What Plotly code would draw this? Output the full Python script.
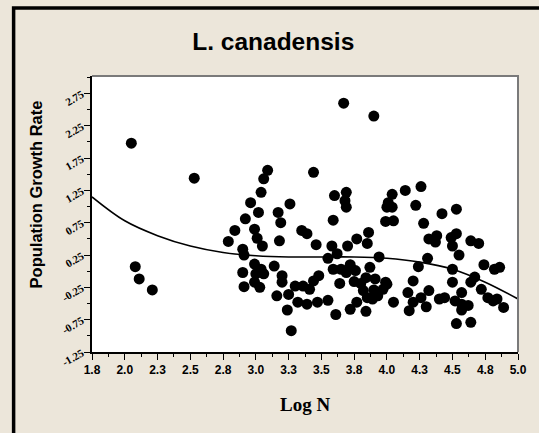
import plotly.graph_objects as go

# Scatter data (Log N, population growth rate)
log_n = [
    2.05, 2.53, 2.08, 2.11, 2.21, 3.67, 3.90, 3.44,
    3.09, 3.06, 3.04, 2.96, 3.26, 3.02, 2.92, 3.17, 3.19, 2.84, 2.99, 3.35,
    3.39, 2.79, 3.01, 3.05, 3.18, 3.46, 2.90, 2.91, 2.99, 3.04, 3.14, 2.90,
    3.00, 3.06, 3.20, 3.20, 2.91, 2.99, 3.03, 3.48, 3.44, 3.30, 3.36, 3.41,
    3.16, 3.25, 3.32, 3.39, 3.47, 3.24, 3.27,
    3.60, 3.69, 3.68, 3.69, 3.59, 4.04, 4.01, 4.00, 4.04, 4.14, 4.26, 4.22,
    3.99, 4.05, 4.28, 3.86, 3.77, 3.85, 3.70, 3.58, 3.62, 3.55, 3.94, 3.59,
    3.65, 3.72, 3.76, 3.69, 3.87, 3.64, 3.75, 3.80, 3.84, 3.91, 3.99, 3.82,
    3.90, 3.97, 4.00, 3.85, 3.93, 3.89, 3.55, 3.77, 3.72, 3.84, 4.05, 3.61,
    4.24, 4.20, 4.16, 4.20, 4.17, 4.26,
    4.53, 4.42, 4.32, 4.38, 4.37, 4.49, 4.53, 4.50, 4.64, 4.70, 4.55, 4.31,
    4.50, 4.74, 4.82, 4.86, 4.67, 4.64, 4.50, 4.32, 4.30, 4.40, 4.44, 4.57,
    4.52, 4.57, 4.62, 4.57, 4.72, 4.77, 4.81, 4.84, 4.89, 4.53, 4.64,
]
growth = [
    1.98, 1.44, 0.07, -0.12, -0.29, 2.60, 2.40, 1.53,
    1.56, 1.43, 1.22, 1.06, 1.04, 0.91, 0.81, 0.91, 0.75, 0.63, 0.65, 0.63,
    0.58, 0.46, 0.51, 0.39, 0.47, 0.41, 0.34, 0.25, 0.11, 0.03, 0.08, -0.02,
    -0.04, -0.04, -0.07, -0.17, -0.24, -0.17, -0.25, -0.07, -0.15, -0.23, -0.23, -0.28,
    -0.38, -0.36, -0.48, -0.51, -0.48, -0.60, -0.92,
    1.17, 1.22, 1.09, 0.99, 0.79, 1.19, 1.06, 0.99, 0.99, 1.25, 1.31, 1.02,
    0.77, 0.78, 0.74, 0.60, 0.50, 0.43, 0.39, 0.39, 0.27, 0.20, 0.22, 0.03,
    0.03, 0.10, 0.01, -0.02, 0.06, -0.19, -0.16, -0.19, -0.10, -0.12, -0.17, -0.30,
    -0.29, -0.28, -0.20, -0.41, -0.38, -0.43, -0.45, -0.48, -0.59, -0.62, -0.48, -0.67,
    0.07, -0.15, -0.33, -0.48, -0.61, -0.41,
    0.96, 0.89, 0.50, 0.55, 0.45, 0.52, 0.58, 0.39, 0.47, 0.43, 0.25, 0.20,
    0.03, 0.10, 0.03, 0.06, -0.09, -0.17, -0.17, -0.30, -0.55, -0.43, -0.41, -0.33,
    -0.46, -0.51, -0.53, -0.60, -0.28, -0.41, -0.46, -0.43, -0.56, -0.81, -0.79,
]

# Fitted trend curve
fit_x = [1.75, 2.0, 2.25, 2.5, 2.75, 3.0, 3.25, 3.5, 3.75, 4.0, 4.25, 4.5, 4.75, 5.0]
fit_y = [1.15, 0.78, 0.55, 0.39, 0.29, 0.24, 0.22, 0.22, 0.22, 0.20, 0.14, 0.03, -0.17, -0.43]

x_tickvals = [1.75, 2.0, 2.25, 2.5, 2.75, 3.0, 3.25, 3.5, 3.75, 4.0, 4.25, 4.5, 4.75, 5.0]
x_ticktext = ["1.8", "2.0", "2.3", "2.5", "2.8", "3.0", "3.3", "3.5", "3.8", "4.0", "4.3", "4.5", "4.8", "5.0"]
y_tickvals = [-1.25, -0.75, -0.25, 0.25, 0.75, 1.25, 1.75, 2.25, 2.75]
y_ticktext = ["-1.25", "-0.75", "-0.25", "0.25", "0.75", "1.25", "1.75", "2.25", "2.75"]

BG = "#ece6da"

fig = go.Figure()
fig.add_trace(go.Scatter(
    x=log_n, y=growth, mode="markers",
    marker=dict(color="black", size=11, line=dict(width=0)),
    showlegend=False, cliponaxis=True,
))
fig.add_trace(go.Scatter(
    x=fit_x, y=fit_y, mode="lines",
    line=dict(color="black", width=1.6, shape="spline"),
    showlegend=False,
))

fig.update_layout(
    width=539, height=433,
    margin=dict(l=92, r=14, t=76, b=81),
    paper_bgcolor=BG, plot_bgcolor="white",
    title=dict(text="<b>L. canadensis</b>", x=0.507, xanchor="center", y=0.905, yanchor="middle",
               font=dict(family="Liberation Sans, Arial, sans-serif", size=24.5, color="black")),
    xaxis=dict(
        range=[1.75, 5.0], tickvals=x_tickvals, ticktext=x_ticktext,
        ticks="outside", ticklen=6, tickwidth=1.2, tickcolor="black",
        minor=dict(ticks="outside", ticklen=3, tickcolor="black", dtick=0.125, tick0=1.75),
        showgrid=False, zeroline=False, showline=True, linecolor="black", linewidth=1.5,
        tickfont=dict(family="Liberation Sans, Arial, sans-serif", size=12, color="black", weight="bold"),
    ),
    yaxis=dict(
        range=[-1.25, 3.02], tickvals=y_tickvals, ticktext=y_ticktext,
        ticks="outside", ticklen=6, tickwidth=1.2, tickcolor="black", tickangle=-30,
        minor=dict(ticks="outside", ticklen=3, tickcolor="black", dtick=0.25, tick0=-1.25),
        showgrid=False, zeroline=False, showline=True, linecolor="black", linewidth=1.5,
        tickfont=dict(family="Liberation Serif, Times New Roman, serif", size=11, color="black", weight="bold"),
    ),
    annotations=[
        dict(text="<b>Population Growth Rate</b>", xref="paper", yref="paper",
             x=-0.132, y=0.57, xanchor="center", yanchor="middle", textangle=-90,
             showarrow=False,
             font=dict(family="Liberation Sans, Arial, sans-serif", size=16.5, color="black")),
        dict(text="<b>Log N</b>", xref="paper", yref="paper",
             x=0.5, y=-0.192, xanchor="center", yanchor="middle",
             showarrow=False,
             font=dict(family="Liberation Serif, Times New Roman, serif", size=19, color="black")),
    ],
    shapes=[
        # gray frame on top and right of plot area
        dict(type="path", xref="paper", yref="paper", path="M 0 1 L 1 1 L 1 0",
             line=dict(color="#7a7a7a", width=2)),
        # black outer frame (left and top edges), continuing past the picture edges
        dict(type="rect", xref="paper", yref="paper", x0=-0.184, x1=1.3, y0=-0.6, y1=1.246,
             line=dict(color="black", width=3.5), fillcolor="rgba(0,0,0,0)"),
    ],
)

fig.write_html("out.html")
